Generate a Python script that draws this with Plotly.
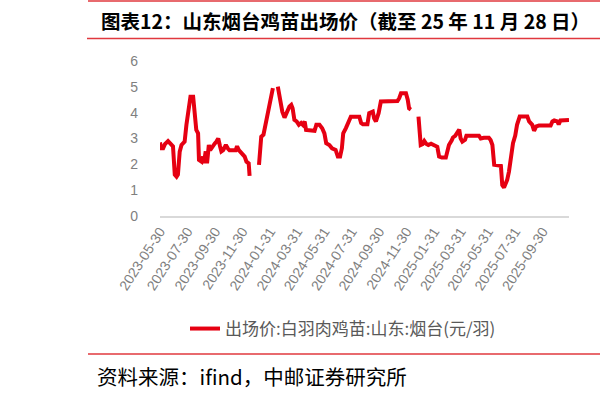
import plotly.graph_objects as go

# ---- data ----
dates = [
    "2023-05-30", "2023-06-02", "2023-06-06", "2023-06-10", "2023-06-17", "2023-06-22",
    "2023-06-28", "2023-07-02", "2023-07-06", "2023-07-09", "2023-07-13", "2023-07-17",
    "2023-07-20", "2023-07-24", "2023-07-28", "2023-08-03", "2023-08-06", "2023-08-12",
    "2023-08-15", "2023-08-19", "2023-08-23", "2023-08-25", "2023-08-31", "2023-09-03",
    "2023-09-05", "2023-09-09", "2023-09-12", "2023-09-14", "2023-09-16", "2023-09-19",
    "2023-09-24", "2023-09-29", "2023-10-03", "2023-10-07", "2023-10-11", "2023-10-14",
    "2023-10-18", "2023-10-24", "2023-10-29", "2023-11-01", "2023-11-15", "2023-11-18",
    "2023-11-22", "2023-11-27", "2023-12-05", "2023-12-09", "2023-12-14", "2023-12-16",
    "2023-12-25",
    "2024-01-06", "2024-01-11", "2024-01-16", "2024-01-22", "2024-01-28", "2024-02-02",
    "2024-02-06", "2024-02-12",
    "2024-02-17", "2024-02-22", "2024-02-27", "2024-03-03", "2024-03-08", "2024-03-14",
    "2024-03-18", "2024-03-21", "2024-03-25", "2024-03-30", "2024-04-04", "2024-04-09",
    "2024-04-13", "2024-04-17", "2024-04-20", "2024-05-09", "2024-05-13", "2024-05-20",
    "2024-05-26", "2024-05-31", "2024-06-04", "2024-06-11", "2024-06-17", "2024-06-25",
    "2024-06-30", "2024-07-05", "2024-07-09", "2024-07-12", "2024-07-18", "2024-07-22",
    "2024-07-26", "2024-07-29", "2024-08-17", "2024-08-21", "2024-08-25", "2024-09-04",
    "2024-09-08", "2024-09-16", "2024-09-19", "2024-09-23", "2024-09-29", "2024-10-04",
    "2024-11-10", "2024-11-14", "2024-11-18", "2024-11-29", "2024-12-03", "2024-12-06",
    "2024-12-10", "2024-12-18",
    "2024-12-27", "2024-12-30", "2025-01-01", "2025-01-05", "2025-01-09", "2025-01-13",
    "2025-01-18", "2025-01-24", "2025-01-31", "2025-02-07", "2025-02-11", "2025-02-17",
    "2025-02-26", "2025-03-02", "2025-03-05", "2025-03-11", "2025-03-14", "2025-03-19",
    "2025-03-24", "2025-03-28", "2025-03-31", "2025-04-04", "2025-04-10", "2025-04-13",
    "2025-05-11", "2025-05-15", "2025-05-22", "2025-06-02", "2025-06-06", "2025-06-10",
    "2025-06-12", "2025-06-14", "2025-06-29", "2025-07-01", "2025-07-02", "2025-07-06",
    "2025-07-10", "2025-07-13", "2025-07-17", "2025-07-21", "2025-07-26", "2025-07-31",
    "2025-08-04", "2025-08-10", "2025-08-27", "2025-08-31", "2025-09-03", "2025-09-07",
    "2025-09-11", "2025-09-16", "2025-09-22", "2025-10-18", "2025-10-22", "2025-10-26",
    "2025-11-02", "2025-11-05", "2025-11-09", "2025-11-16", "2025-11-28",
]

price = [
    2.85, 2.62, 2.62, 2.78, 2.90, 2.82,
    2.70, 1.60, 1.52, 1.60, 2.49, 2.75,
    2.82, 2.88, 3.53, 4.30, 4.62, 4.62,
    4.20, 3.33, 3.20, 2.17, 2.10, 2.30,
    2.04, 2.50, 2.04, 2.45, 2.75, 2.55,
    2.70, 2.80, 2.88, 3.00, 2.70, 2.50,
    2.55, 2.75, 2.60, 2.55, 2.55, 2.70,
    2.55, 2.45, 2.30, 2.10, 2.04, 1.55,
    None,
    1.98, 3.07, 3.15, 3.66, 4.17, 4.69,
    4.95, None,
    5.01, 4.43, 4.04, 3.81, 4.04, 4.24,
    4.30, 4.17, 3.72, 3.66, 3.53, 3.60,
    3.53, 3.66, 3.33, 3.30, 3.53, 3.53,
    3.40, 3.20, 2.82, 2.75, 2.62, 2.56,
    2.30, 2.30, 2.62, 3.20, 3.40, 3.60,
    3.79, 3.84, 3.84, 3.60, 3.55, 3.55,
    3.98, 4.04, 3.78, 3.66, 3.98, 4.43,
    4.45, 4.56, 4.75, 4.75, 4.50, 4.17,
    4.12, None,
    3.85, 3.27, 2.75, 2.78, 2.90, 2.80,
    2.75, 2.80, 2.75, 2.68, 2.30, 2.26,
    2.26, 2.56, 2.75, 2.92, 3.04, 3.10,
    3.27, 3.35, 3.01, 2.88, 2.95, 3.11,
    3.11, 3.00, 3.03, 3.03, 2.94, 2.75,
    2.36, 1.98, 1.94, 1.59, 1.20, 1.10,
    1.26, 1.40, 1.72, 2.24, 2.82, 3.11,
    3.53, 3.85, 3.85, 3.66, 3.60, 3.53,
    3.30, 3.47, 3.50, 3.50, 3.66, 3.70,
    3.66, 3.55, 3.70, 3.72, 3.72,
]

tick_dates = [
    "2023-05-30", "2023-07-30", "2023-09-30", "2023-11-30", "2024-01-31",
    "2024-03-31", "2024-05-31", "2024-07-31", "2024-09-30", "2024-11-30",
    "2025-01-31", "2025-03-31", "2025-05-31", "2025-07-31", "2025-09-30",
]
y_ticks = [0, 1, 2, 3, 4, 5, 6]

series_name = "出场价:白羽肉鸡苗:山东:烟台(元/羽)"
title_text = "图表12：山东烟台鸡苗出场价（截至 25 年 11 月 28 日）"
source_text = "资料来源：ifind，中邮证券研究所"

# ---- figure ----
W, H = 600, 394
ML, MR, MT, MB = 160, 31, 61, 178
pw = W - ML - MR
ph = H - MT - MB


def px_x(x):
    return (x - ML) / pw


def px_y(y):
    return (H - MB - y) / ph


red = "#E60012"
rule_red = "#E0383E"

fig = go.Figure()
fig.add_trace(go.Scatter(
    x=dates, y=price, mode="lines", name=series_name,
    line=dict(color=red, width=4), connectgaps=False,
))

fig.update_layout(
    width=W, height=H,
    margin=dict(l=ML, r=MR, t=MT, b=MB),
    paper_bgcolor="white", plot_bgcolor="white",
    showlegend=True,
    legend=dict(
        orientation="h", x=px_x(185), y=px_y(329), xanchor="left", yanchor="middle",
        font=dict(family="Noto Sans CJK SC", size=17, color="#595959"),
        bgcolor="rgba(0,0,0,0)",
    ),
    xaxis=dict(
        type="date", range=["2023-05-30", "2025-11-28"],
        tickvals=tick_dates, ticktext=tick_dates, tickangle=-57,
        tickfont=dict(family="Liberation Sans", size=14, color="#7f7f7f"),
        showgrid=False, zeroline=False, showline=True,
        linecolor="#d9d9d9", linewidth=1.5, ticks="",
    ),
    yaxis=dict(
        range=[0, 6], tickvals=y_ticks,
        tickfont=dict(family="Liberation Sans", size=14, color="#7f7f7f"),
        showgrid=False, zeroline=False, showline=False, ticks="",
        ticklabelstandoff=21,
    ),
    shapes=[
        dict(type="line", xref="paper", yref="paper", x0=px_x(88), x1=px_x(600),
             y0=px_y(1), y1=px_y(1), line=dict(color=rule_red, width=1.5)),
        dict(type="line", xref="paper", yref="paper", x0=px_x(87), x1=px_x(600),
             y0=px_y(38.5), y1=px_y(38.5), line=dict(color=rule_red, width=1.5)),
        dict(type="line", xref="paper", yref="paper", x0=px_x(88), x1=px_x(600),
             y0=px_y(354), y1=px_y(354), line=dict(color=rule_red, width=1.5)),
    ],
    annotations=[
        dict(text="<b>" + title_text + "</b>", xref="paper", yref="paper",
             x=px_x(99), y=px_y(20), xanchor="left", yanchor="middle", showarrow=False,
             font=dict(family="Noto Sans CJK SC", size=19.5, color="#000000")),
        dict(text=source_text, xref="paper", yref="paper",
             x=px_x(95), y=px_y(376), xanchor="left", yanchor="middle", showarrow=False,
             font=dict(family="Noto Sans CJK SC", size=20.5, color="#000000")),
    ],
)

fig.write_html("out.html")
